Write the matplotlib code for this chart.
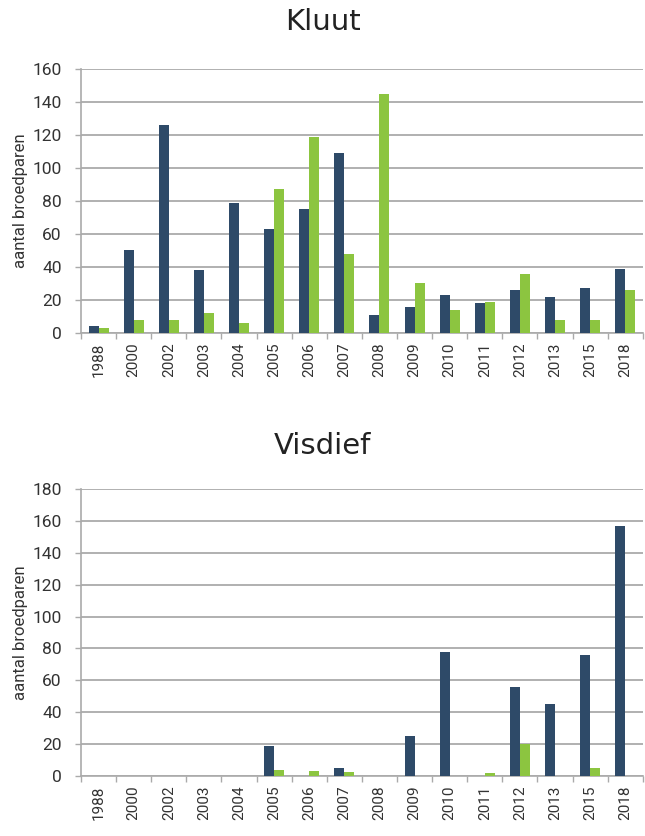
import numpy as np
import matplotlib
matplotlib.use('Agg')
import matplotlib.pyplot as plt
from matplotlib.ticker import FixedLocator

plt.rcParams['font.family'] = ['Roboto', 'DejaVu Sans']

years = ['1988', '2000', '2002', '2003', '2004', '2005', '2006', '2007',
         '2008', '2009', '2010', '2011', '2012', '2013', '2015', '2018']

# Kluut
kluut_dark = [4, 50, 126, 38, 79, 63, 75, 109, 11, 16, 23, 18, 26, 22, 27, 39]
kluut_green = [3, 8, 8, 12, 6, 87, 119, 48, 145, 30, 14, 19, 36, 8, 8, 26]

# Visdief
visdief_dark = [0, 0, 0, 0, 0, 19, 0, 5, 0, 25, 78, 0, 56, 45, 76, 157]
visdief_green = [0, 0, 0, 0, 0, 4, 3, 2.5, 0, 0, 0, 2, 20, 0, 5, 0]

DARK = '#2e4a68'
GREEN = '#8cc540'
GRID = '#aaaaaa'

fig = plt.figure(figsize=(6.45, 8.36), dpi=100)


def draw(ax, dark, green, ymax, step):
    x = np.arange(len(years))
    w = 0.285
    ax.bar(x - w / 2, dark, width=w, color=DARK, zorder=3)
    ax.bar(x + w / 2, green, width=w, color=GREEN, zorder=3)
    ax.set_xlim(-0.5, len(years) - 0.5)
    ax.set_ylim(0, ymax)
    ax.set_yticks(np.arange(0, ymax + 1, step))
    ax.yaxis.grid(True, color=GRID, linewidth=1.3, zorder=0)
    ax.set_axisbelow(True)
    for s in ['top', 'right']:
        ax.spines[s].set_visible(False)
    for s in ['left', 'bottom']:
        ax.spines[s].set_color(GRID)
        ax.spines[s].set_linewidth(1.2)
    ax.set_xticks(x)
    ax.set_xticklabels(years, rotation=90, fontsize=11, color='#333333')
    ax.xaxis.set_minor_locator(FixedLocator(np.arange(-0.5, len(years), 1)))
    ax.tick_params(axis='x', which='major', length=0, pad=7)
    ax.tick_params(axis='x', which='minor', length=4, color=GRID, width=1)
    ax.tick_params(axis='y', length=4, color=GRID, width=1, pad=10,
                   labelsize=12.5, labelcolor='#333333')
    ax.set_ylabel('aantal broedparen', fontsize=12, color='#333333', labelpad=3)


ax1 = fig.add_axes([0.1256, 0.6017, 0.871, 0.3158])
draw(ax1, kluut_dark, kluut_green, 160, 20)
ax2 = fig.add_axes([0.1256, 0.0718, 0.871, 0.3433])
draw(ax2, visdief_dark, visdief_green, 180, 20)

fig.text(0.5, 0.974, 'Kluut', ha='center', va='center', fontsize=21,
         family='DejaVu Sans', color='#222222')
fig.text(0.5, 0.466, 'Visdief', ha='center', va='center', fontsize=21,
         family='DejaVu Sans', color='#222222')

fig.savefig('out.png', dpi=100)
